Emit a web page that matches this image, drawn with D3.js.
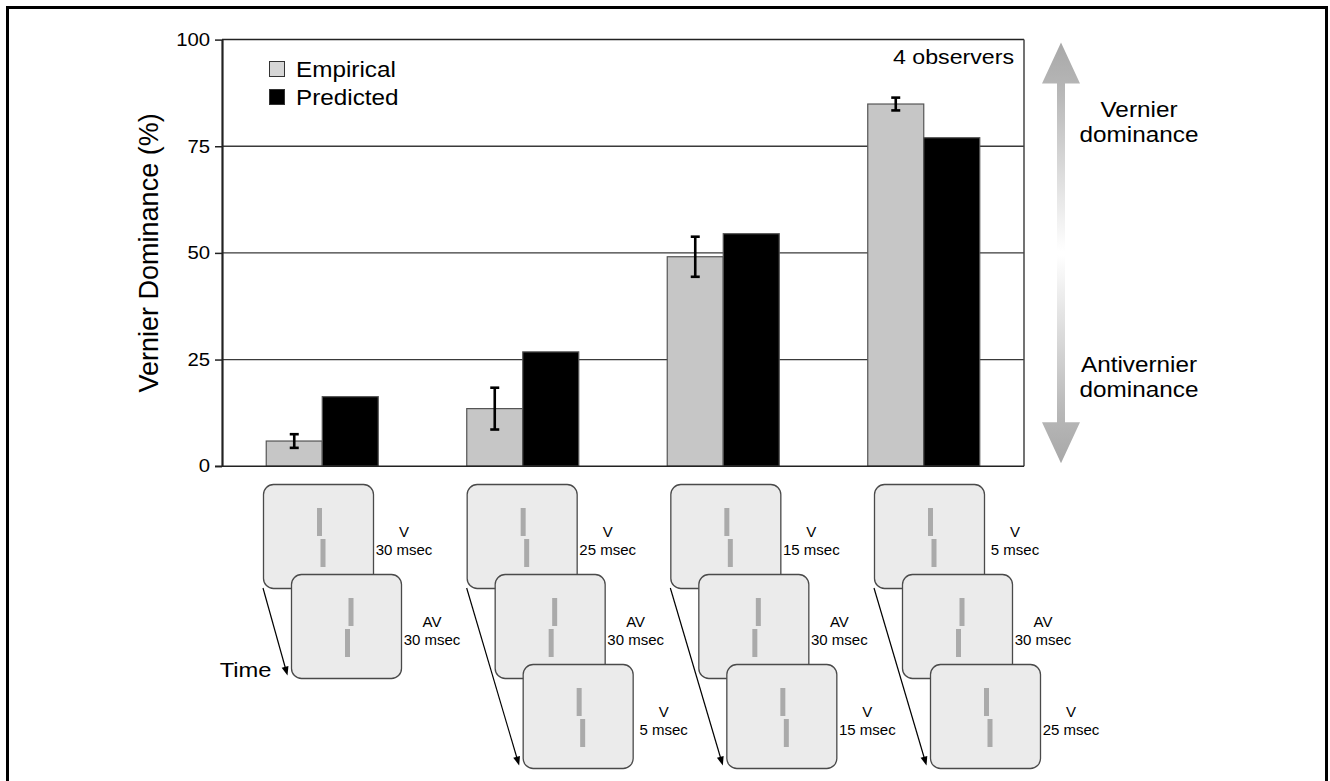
<!DOCTYPE html>
<html>
<head>
<meta charset="utf-8">
<script src="https://cdn.jsdelivr.net/npm/d3@7"></script>
<style>
  body { margin: 0; background: #fff; }
  svg text { font-family: "Liberation Sans", Arial, Helvetica, sans-serif; fill: #000; }
</style>
</head>
<body>
<div id="chart"></div>
<script>
// ---- data ----
const conditions = ["V30-AV30", "V25-AV30-V5", "V15-AV30-V15", "V5-AV30-V25"];
const empirical = [5.9, 13.5, 49.1, 84.9];
const empiricalErr = [1.6, 4.9, 4.7, 1.5];
const predicted = [16.3, 26.8, 54.5, 77.0];
const yTicks = [0, 25, 50, 75, 100];
const seriesNames = ["Empirical", "Predicted"];
const seriesColors = ["#c6c6c6", "#000000"];

// stimulus sequences shown under each pair of bars
const sequences = [
    [{ type: "V", dur: "30 msec" }, { type: "AV", dur: "30 msec" }],
    [{ type: "V", dur: "25 msec" }, { type: "AV", dur: "30 msec" }, { type: "V", dur: "5 msec" }],
    [{ type: "V", dur: "15 msec" }, { type: "AV", dur: "30 msec" }, { type: "V", dur: "15 msec" }],
    [{ type: "V", dur: "5 msec" }, { type: "AV", dur: "30 msec" }, { type: "V", dur: "25 msec" }]
];

const W = 1330, H = 781;
const SX = 1.13; // the original figure's lettering is a bit wider than Arial

const svg = d3.select("#chart").append("svg")
    .attr("width", W)
    .attr("height", H);

svg.append("rect").attr("width", W).attr("height", H).attr("fill", "#fff");

// outer frame of the figure
svg.append("rect")
    .attr("x", 7.5).attr("y", 7.5)
    .attr("width", 1319).attr("height", 820)
    .attr("fill", "none")
    .attr("stroke", "#000")
    .attr("stroke-width", 3);

// small helper for (slightly stretched) text
function label(g, x, y, str, size, anchor = "start") {
    return g.append("text")
        .attr("transform", `translate(${x},${y}) scale(${SX},1)`)
        .attr("text-anchor", anchor)
        .style("font-size", size + "px")
        .text(str);
}

// ---- scales ----
const plotL = 222, plotR = 1024;
const x = d3.scaleBand().domain(conditions).range([plotL, plotR]);
const xs = d3.scaleBand().domain(seriesNames).range([0, x.bandwidth()]).paddingInner(0).paddingOuter(0.79);
const y = d3.scaleLinear().domain([0, 100]).range([466.2, 39.6]);

// gridlines
svg.append("g")
    .selectAll("line")
    .data(yTicks.filter(d => d > 0 && d < 100))
    .enter()
    .append("line")
    .attr("x1", plotL).attr("x2", plotR)
    .attr("y1", d => y(d)).attr("y2", d => y(d))
    .attr("stroke", "#3a3a3a")
    .attr("stroke-width", 1.3);

// top and right borders of the plot box
svg.append("line").attr("x1", plotL).attr("x2", plotR).attr("y1", y(100)).attr("y2", y(100))
    .attr("stroke", "#222").attr("stroke-width", 1.5);
svg.append("line").attr("x1", plotR).attr("x2", plotR).attr("y1", y(100)).attr("y2", y(0))
    .attr("stroke", "#444").attr("stroke-width", 1.5);

// bars
const bars = [];
conditions.forEach((c, i) => {
    bars.push({ cond: c, series: "Empirical", value: empirical[i], err: empiricalErr[i] });
    bars.push({ cond: c, series: "Predicted", value: predicted[i], err: null });
});

svg.append("g")
    .selectAll("rect")
    .data(bars)
    .enter()
    .append("rect")
    .attr("x", d => x(d.cond) + xs(d.series))
    .attr("y", d => y(d.value))
    .attr("width", xs.bandwidth())
    .attr("height", d => y(0) - y(d.value))
    .attr("fill", d => seriesColors[seriesNames.indexOf(d.series)])
    .attr("stroke", "#555")
    .attr("stroke-width", 1.2);

// error bars
const errG = svg.append("g").attr("stroke", "#000").attr("stroke-width", 2.6);
bars.filter(d => d.err !== null).forEach(d => {
    const cx = x(d.cond) + xs(d.series) + xs.bandwidth() / 2;
    errG.append("line").attr("x1", cx).attr("x2", cx)
        .attr("y1", y(d.value + d.err)).attr("y2", y(d.value - d.err));
    [d.value + d.err, d.value - d.err].forEach(v => {
        errG.append("line").attr("x1", cx - 4.5).attr("x2", cx + 4.5)
            .attr("y1", y(v)).attr("y2", y(v));
    });
});

// y axis
const yAxis = svg.append("g")
    .attr("transform", `translate(${plotL},0)`)
    .call(d3.axisLeft(y).tickValues(yTicks).tickSize(7).tickPadding(3.6).tickSizeOuter(0));
yAxis.select(".domain").attr("stroke", "#222").attr("stroke-width", 2.2);
yAxis.selectAll(".tick line").attr("stroke", "#222").attr("stroke-width", 1.5);
yAxis.selectAll(".tick text")
    .attr("transform", `scale(${SX},1)`)
    .style("font-size", "18px")
    .style("font-family", "'Liberation Sans', Arial, sans-serif")
    .attr("fill", "#000");

// bottom line (0 level)
svg.append("line").attr("x1", plotL - 7).attr("x2", plotR).attr("y1", y(0)).attr("y2", y(0))
    .attr("stroke", "#222").attr("stroke-width", 1.5);

// y axis title
svg.append("text")
    .attr("transform", `translate(158,${(y(0) + y(100)) / 2}) rotate(-90)`)
    .attr("text-anchor", "middle")
    .style("font-size", "27px")
    .text("Vernier Dominance (%)");

// legend
const legend = svg.append("g").attr("transform", "translate(269,61)");
seriesNames.forEach((s, i) => {
    legend.append("rect")
        .attr("x", 0.5).attr("y", i * 28 + 0.5)
        .attr("width", 15).attr("height", 15)
        .attr("fill", i === 0 ? "#d6d6d6" : "#000")
        .attr("stroke", "#333").attr("stroke-width", 1);
    label(legend, 27, i * 28 + 16, s, 21.5);
});

label(svg, 1014, 64, "4 observers", 20.5, "end");

// ---- right hand double arrow ----
const defs = svg.append("defs");
const gUp = defs.append("linearGradient").attr("id", "gradUp")
    .attr("x1", 0).attr("y1", 0).attr("x2", 0).attr("y2", 1);
gUp.append("stop").attr("offset", "0%").attr("stop-color", "#a8a8a8");
gUp.append("stop").attr("offset", "25%").attr("stop-color", "#b8b8b8");
gUp.append("stop").attr("offset", "100%").attr("stop-color", "#ffffff");
const gDown = defs.append("linearGradient").attr("id", "gradDown")
    .attr("x1", 0).attr("y1", 1).attr("x2", 0).attr("y2", 0);
gDown.append("stop").attr("offset", "0%").attr("stop-color", "#a8a8a8");
gDown.append("stop").attr("offset", "25%").attr("stop-color", "#b8b8b8");
gDown.append("stop").attr("offset", "100%").attr("stop-color", "#ffffff");

const ax = 1061, headW = 19, shaftW = 4, headH = 41;
function arrowPath(tip, end) {
    const dir = end > tip ? 1 : -1;
    const base = tip + dir * headH;
    return `M${ax},${tip} L${ax + headW},${base} L${ax + shaftW},${base} L${ax + shaftW},${end}` +
        ` L${ax - shaftW},${end} L${ax - shaftW},${base} L${ax - headW},${base} Z`;
}
svg.append("path").attr("d", arrowPath(y(100) + 3, y(50) - 2)).attr("fill", "url(#gradUp)");
svg.append("path").attr("d", arrowPath(y(0) - 3, y(50) + 2)).attr("fill", "url(#gradDown)");

label(svg, 1139, 117, "Vernier", 21.5, "middle");
label(svg, 1139, 142, "dominance", 21.5, "middle");
label(svg, 1139, 372, "Antivernier", 21.5, "middle");
label(svg, 1139, 397, "dominance", 21.5, "middle");

// ---- stimulus sequences ----
const sx = d3.scalePoint().domain(conditions).range([263, 874]);
const boxW = 110, boxH = 104, stepX = 28, stepY = 90, boxTop = 484;

conditions.forEach((c, i) => {
    const g = svg.append("g").attr("transform", `translate(${sx(c)},${boxTop})`);
    const seq = sequences[i];
    const last = seq.length - 1;

    // time arrow from first frame to last frame
    const tipX = last * stepX - 3.5, tipY = last * stepY + boxH - 2.5;
    const ang = Math.atan2(tipY - boxH, tipX);
    g.append("line")
        .attr("x1", 0).attr("y1", boxH)
        .attr("x2", tipX - 6 * Math.cos(ang)).attr("y2", tipY - 6 * Math.sin(ang))
        .attr("stroke", "#000").attr("stroke-width", 1.2);
    const hl = 9, hw = 3.5;
    const bx = tipX - hl * Math.cos(ang), by = tipY - hl * Math.sin(ang);
    g.append("path")
        .attr("d", `M${tipX},${tipY} L${bx + hw * Math.sin(ang)},${by - hw * Math.cos(ang)} L${bx - hw * Math.sin(ang)},${by + hw * Math.cos(ang)} Z`)
        .attr("fill", "#000");

    seq.forEach((f, k) => {
        const fg = g.append("g").attr("transform", `translate(${k * stepX},${k * stepY})`);
        fg.append("rect")
            .attr("x", 0.5).attr("y", 0.5)
            .attr("width", boxW).attr("height", boxH)
            .attr("rx", 10).attr("ry", 10)
            .attr("fill", "#ebebeb")
            .attr("stroke", "#4a4a4a").attr("stroke-width", 1.3);
        const upX = f.type === "V" ? 54 : 57.5;
        const loX = f.type === "V" ? 57.5 : 54;
        fg.append("rect").attr("x", upX).attr("y", 24).attr("width", 5).attr("height", 28).attr("fill", "#aaaaaa");
        fg.append("rect").attr("x", loX).attr("y", 55).attr("width", 5).attr("height", 28).attr("fill", "#aaaaaa");
        fg.append("text").attr("x", boxW + 31).attr("y", 53)
            .attr("text-anchor", "middle").style("font-size", "15px").text(f.type);
        fg.append("text").attr("x", boxW + 31).attr("y", 71)
            .attr("text-anchor", "middle").style("font-size", "15px").text(f.dur);
    });

    if (i === 0) {
        label(g, tipX - 16, tipY + 1, "Time", 21, "end");
    }
});
</script>
</body>
</html>
